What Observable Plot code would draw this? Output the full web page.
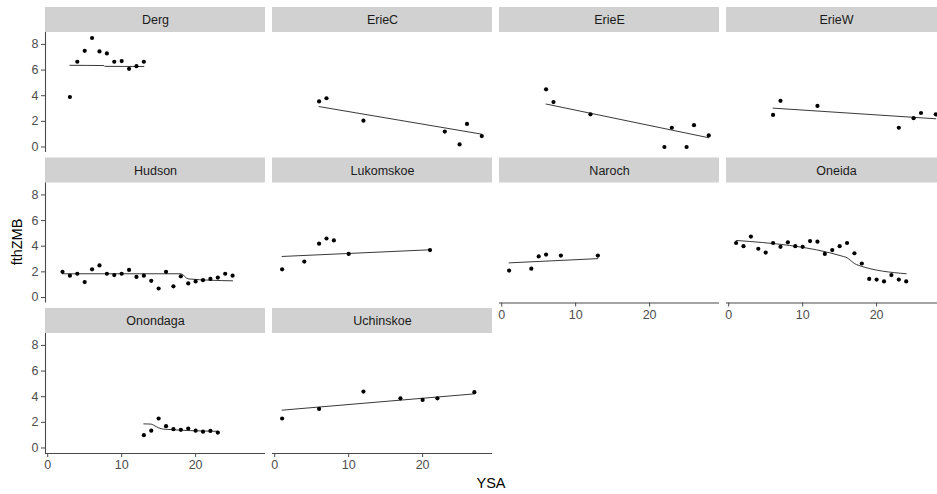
<!DOCTYPE html>
<html><head><meta charset="utf-8">
<script src="https://cdn.jsdelivr.net/npm/d3@7"></script>
<script src="https://cdn.jsdelivr.net/npm/@observablehq/plot@0.6"></script>
<style>
html,body{margin:0;padding:0;background:#fff;overflow:hidden;width:937px;height:494px}
#wrap{position:relative;width:937px;height:494px;overflow:hidden;font-family:"Liberation Sans",Arial,sans-serif}
#chart{position:absolute;left:0;top:0;width:946px;height:494px}
#chart svg{max-width:none !important;width:946px;height:494px}
.title{position:absolute;color:#000;font-size:14.5px;line-height:1;white-space:nowrap}
#xt{left:491px;top:476px;transform:translateX(-50%)}
#yt{left:17px;top:242px;transform:translate(-50%,-50%) rotate(-90deg)}
</style></head><body>
<div id="wrap"><div id="chart"></div><div class="title" id="xt">YSA</div><div class="title" id="yt">fthZMB</div></div>
<script>
// ---- data ----
const lakes = ["Derg","ErieC","ErieE","ErieW","Hudson","Lukomskoe","Naroch","Oneida","Onondaga","Uchinskoe"];
const xTicks = [0, 10, 20];
const yTicks = [0, 2, 4, 6, 8];

const dergPts = [[3,3.9],[4,6.65],[5,7.5],[6,8.5],[7,7.45],[8,7.3],[9,6.65],[10,6.7],[11,6.1],[12,6.3],[13,6.65]];
const dergFit = [[3,6.37],[7.6,6.35],[7.7,6.29],[13,6.28]];
const erieCPts = [[6,3.55],[7,3.8],[12,2.05],[23,1.2],[25,0.2],[26,1.8],[28,0.85]];
const erieCFit = [[6,3.15],[28,1.0]];
const erieEPts = [[6,4.5],[7,3.5],[12,2.55],[22,0],[23,1.5],[25,0],[26,1.7],[28,0.9]];
const erieEFit = [[6,3.35],[28,0.72]];
const erieWPts = [[6,2.5],[7,3.6],[12,3.2],[23,1.5],[25,2.25],[26,2.65],[28,2.55]];
const erieWFit = [[6,3.03],[28,2.2]];
const hudsonPts = [[2,2.0],[3,1.7],[4,1.85],[5,1.2],[6,2.2],[7,2.5],[8,1.85],[9,1.75],[10,1.85],[11,2.15],[12,1.6],[13,1.7],[14,1.3],[15,0.7],[16,2.0],[17,0.87],[18,1.65],[19,1.1],[20,1.25],[21,1.35],[22,1.45],[23,1.55],[24,1.85],[25,1.7]];
const hudsonFit = [[2,1.85],[18,1.85],[19,1.45],[25,1.3]];
const lukomskoePts = [[1,2.2],[4,2.8],[6,4.2],[7,4.6],[8,4.45],[10,3.4],[21,3.7]];
const lukomskoeFit = [[1,3.2],[21,3.72]];
const narochPts = [[1,2.1],[4,2.25],[5,3.2],[6,3.35],[8,3.27],[13,3.27]];
const narochFit = [[1,2.7],[13,3.03]];
const oneidaPts = [[1,4.25],[2,4.0],[3,4.75],[4,3.8],[5,3.5],[6,4.25],[7,3.95],[8,4.3],[9,4.0],[10,3.95],[11,4.4],[12,4.35],[13,3.4],[14,3.7],[15,4.0],[16,4.25],[17,3.45],[18,2.65],[19,1.45],[20,1.4],[21,1.25],[22,1.75],[23,1.4],[24,1.25]];
const oneidaFit = [[1,4.45],[15.5,3.2],[16,3.1],[16.5,2.88],[17,2.65],[17.5,2.52],[24,1.85]];
const onondagaPts = [[13,1.0],[14,1.35],[15,2.3],[16,1.7],[17,1.47],[18,1.42],[19,1.52],[20,1.35],[21,1.27],[22,1.33],[23,1.2]];
const onondagaFit = [[13,1.88],[14,1.86],[14.5,1.72],[15,1.57],[15.7,1.47],[23,1.3]];
const uchinskoePts = [[1,2.3],[6,3.05],[12,4.4],[17,3.87],[20,3.75],[22,3.87],[27,4.35]];
const uchinskoeFit = [[1,2.95],[27,4.22]];

// ---- build tables ----
const series = {
  Derg: [dergPts, dergFit], ErieC: [erieCPts, erieCFit], ErieE: [erieEPts, erieEFit],
  ErieW: [erieWPts, erieWFit], Hudson: [hudsonPts, hudsonFit], Lukomskoe: [lukomskoePts, lukomskoeFit],
  Naroch: [narochPts, narochFit], Oneida: [oneidaPts, oneidaFit], Onondaga: [onondagaPts, onondagaFit],
  Uchinskoe: [uchinskoePts, uchinskoeFit]
};
const NCOL = 4;
const panels = lakes.map((lake, i) => ({lake, col: i % NCOL, row: Math.floor(i / NCOL)}));
const points = panels.flatMap(p => series[p.lake][0].map(([x, y]) => ({...p, x, y})));
const fits = panels.flatMap(p => series[p.lake][1].map(([x, y]) => ({...p, x, y})));
const leftPanels = panels.filter(p => p.col === 0);
const bottomPanels = panels.filter((p, i) => i + NCOL >= lakes.length);

const X_DOMAIN = [-0.3, 29.45];
const Y_DOMAIN = [-0.43, 8.93];
const PANEL_W = 220, GAP_X = 7, PANEL_H = 120, STEP_Y = 150.5, STRIP_H = 25;
const stripTop = Y_DOMAIN[1] + STRIP_H * (Y_DOMAIN[1] - Y_DOMAIN[0]) / PANEL_H;
const AX = "#4a4a4a";

const chart = Plot.plot({
  width: 946, height: 494,
  marginTop: 32, marginLeft: 45, marginRight: 0, marginBottom: 41,
  x: {domain: X_DOMAIN},
  y: {domain: Y_DOMAIN},
  fx: {domain: [0, 1, 2, 3], paddingInner: GAP_X / (PANEL_W + GAP_X), paddingOuter: 0, round: false, axis: null},
  fy: {domain: [0, 1, 2], paddingInner: (STEP_Y - PANEL_H) / STEP_Y, paddingOuter: 0, round: false, axis: null},
  style: {fontFamily: "Liberation Sans, Arial, sans-serif", fontSize: "12.5px", color: "#4D4D4D", background: "white", overflow: "visible", maxWidth: "none"},
  marks: [
    Plot.rect(panels, {fx: "col", fy: "row", x1: X_DOMAIN[0], x2: X_DOMAIN[1], y1: Y_DOMAIN[1], y2: stripTop, fill: "#D1D1D1"}),
    Plot.text(panels, {fx: "col", fy: "row", x: (X_DOMAIN[0] + X_DOMAIN[1]) / 2, y: (Y_DOMAIN[1] + stripTop) / 2, text: "lake", fill: "#1A1A1A", fontSize: 12.5}),
    Plot.ruleX(leftPanels, {fx: "col", fy: "row", x: X_DOMAIN[0], y1: Y_DOMAIN[0], y2: Y_DOMAIN[1], stroke: AX, strokeWidth: 1.1}),
    Plot.ruleY(bottomPanels, {fx: "col", fy: "row", y: Y_DOMAIN[0], x1: X_DOMAIN[0], x2: X_DOMAIN[1], stroke: AX, strokeWidth: 1.1}),
    Plot.axisY({ticks: yTicks, tickSize: 4, tickPadding: 3, facetAnchor: "left", label: null, stroke: AX, fill: "#4D4D4D"}),
    Plot.axisX({ticks: xTicks, tickSize: 4, tickPadding: 3, label: null, stroke: AX, fill: "#4D4D4D"}),
    Plot.line(fits, {fx: "col", fy: "row", x: "x", y: "y", z: "lake", stroke: "#222", strokeWidth: 0.9, curve: "monotone-x"}),
    Plot.dot(points, {fx: "col", fy: "row", x: "x", y: "y", r: 2.1, fill: "black"})
  ]
});
document.getElementById("chart").appendChild(chart);
</script>
</body></html>
